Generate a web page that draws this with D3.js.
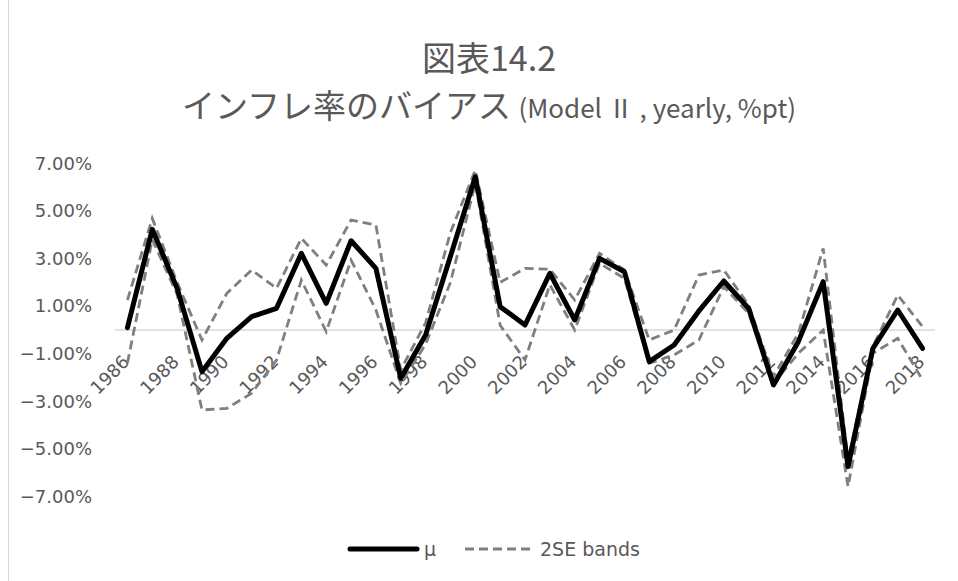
<!DOCTYPE html>
<html>
<head>
<meta charset="utf-8">
<script src="https://cdn.jsdelivr.net/npm/d3@7"></script>
<style>
  html, body { margin: 0; padding: 0; background: #fff; }
  svg { display: block; }
</style>
</head>
<body>
<svg id="chart" width="958" height="581"></svg>
<script>
// Inflation-rate bias, yearly (%pt), with ±2SE bands
const years = d3.range(1986, 2019).map(String);
const mu = [0.1, 4.23, 1.75, -1.75, -0.35, 0.56, 0.91, 3.22, 1.12, 3.75, 2.59, -2.03, -0.21, 3.1, 6.44, 0.98,
  0.21, 2.38, 0.42, 3.01, 2.45, -1.33, -0.63, 0.8, 2.06, 0.91, -2.31, -0.49, 2.03, -5.74, -0.77, 0.84, -0.77];
const upperBand = [1.26, 4.69, 2.0, -0.42, 1.54, 2.52, 1.75, 3.85, 2.73, 4.62, 4.41, -1.68, 0.3, 4.1, 6.72, 2.0,
  2.59, 2.55, 1.26, 3.22, 2.52, -0.42, 0.0, 2.31, 2.52, 1.05, -1.96, -0.14, 3.43, -5.46, -0.7, 1.47, 0.14];
const lowerBand = [-1.39, 3.8, 1.5, -3.36, -3.29, -2.66, -1.26, 2.1, -0.07, 2.94, 0.84, -2.24, -0.6, 2.0, 6.16, 0.2,
  -1.26, 1.9, 0.0, 2.8, 2.17, -1.4, -1.05, -0.42, 1.82, 0.7, -2.24, -0.98, 0.0, -6.58, -0.98, -0.35, -2.1];
const yTicks = [7, 5, 3, 1, -1, -3, -5, -7];
const xTickYears = years.filter((d, i) => i % 2 === 0);

const svg = d3.select("#chart");
const textGray = "#595959";
const labelFont = "'DejaVu Sans', Verdana, sans-serif";
const cjkFont = "'Noto Sans CJK JP', 'Noto Sans', sans-serif";

// chart frame edge
svg.append("line")
  .attr("x1", 8.5).attr("x2", 8.5).attr("y1", 0).attr("y2", 581)
  .attr("stroke", "#d9d9d9").attr("stroke-width", 1);

// titles
svg.append("text")
  .attr("x", 489).attr("y", 71)
  .attr("text-anchor", "middle")
  .attr("font-family", cjkFont)
  .attr("font-size", 34).attr("fill", textGray)
  .text("図表14.2");

const sub = svg.append("text")
  .attr("x", 489).attr("y", 118)
  .attr("text-anchor", "middle")
  .attr("font-family", cjkFont)
  .attr("fill", textGray);
sub.append("tspan").attr("font-size", 33).text("インフレ率のバイアス ");
sub.append("tspan").attr("font-size", 26).text("(Model Ⅱ , yearly, %pt)");

// scales
const x = d3.scaleBand().domain(years).range([115, 935]);
const cx = d => x(d) + x.bandwidth() / 2;
const y = d3.scaleLinear().domain([-7, 7]).range([496.6, 163.4]);

// y axis labels
const yAxis = d3.axisLeft(y).tickValues(yTicks)
  .tickFormat(d => d3.format(".2f")(d) + "%").tickSize(0).tickPadding(0);
const gy = svg.append("g").attr("transform", "translate(92,0)").call(yAxis);
gy.select(".domain").remove();
gy.selectAll("text")
  .attr("x", 0)
  .attr("text-anchor", "end")
  .attr("font-family", labelFont)
  .attr("font-size", 18).attr("fill", textGray);

// horizontal axis at zero
svg.append("line")
  .attr("x1", 115).attr("x2", 935).attr("y1", y(0)).attr("y2", y(0))
  .attr("stroke", "#d9d9d9").attr("stroke-width", 1.5);

// category labels, rotated
const xAxis = d3.axisBottom(x).tickValues(xTickYears).tickSize(0).tickPadding(0);
const gx = svg.append("g").attr("transform", `translate(0,${y(0)})`).call(xAxis);
gx.select(".domain").remove();
gx.selectAll("text")
  .attr("font-family", labelFont)
  .attr("font-size", 18).attr("fill", textGray)
  .attr("text-anchor", "end")
  .attr("dy", null).attr("y", 0)
  .attr("transform", "translate(3,33) rotate(-45)");

// series lines
const line = d3.line().x((d, i) => cx(years[i])).y(d => y(d));
const bandStyle = sel => sel.attr("fill", "none").attr("stroke", "#7f7f7f")
  .attr("stroke-width", 2.8).attr("stroke-dasharray", "9,5");

svg.append("path").datum(upperBand).attr("d", line).call(bandStyle);
svg.append("path").datum(lowerBand).attr("d", line).call(bandStyle);
svg.append("path").datum(mu).attr("d", line)
  .attr("fill", "none").attr("stroke", "#000").attr("stroke-width", 5)
  .attr("stroke-linejoin", "round").attr("stroke-linecap", "round");

// legend
const lg = svg.append("g").attr("font-family", labelFont)
  .attr("font-size", 19).attr("fill", textGray);
lg.append("line").attr("x1", 350).attr("x2", 417).attr("y1", 549).attr("y2", 549)
  .attr("stroke", "#000").attr("stroke-width", 5).attr("stroke-linecap", "round");
lg.append("text").attr("x", 424).attr("y", 556).text("μ");
lg.append("line").attr("x1", 465).attr("x2", 533).attr("y1", 549).attr("y2", 549)
  .call(bandStyle).attr("fill", null);
lg.append("text").attr("x", 540).attr("y", 556).text("2SE bands");
</script>
</body>
</html>
